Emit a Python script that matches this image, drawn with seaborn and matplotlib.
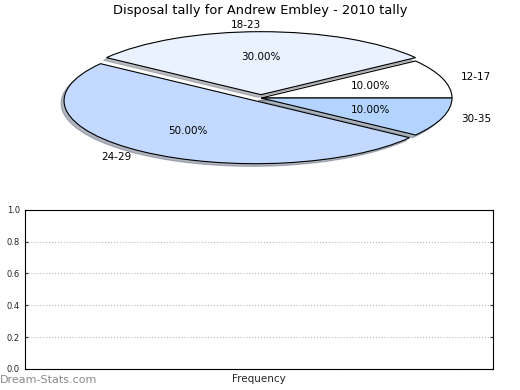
import matplotlib
matplotlib.use("Agg")
import matplotlib.pyplot as plt
import seaborn as sns

# Disposal tally by stat interval
intervals = ["12-17", "18-23", "24-29", "30-35"]
shares = [10, 30, 50, 10]
wedge_colors = ["#FFFFFF", "#EAF1FF", "#C3D9FF", "#B3D4FF"]
explode = [0.0, 0.053, 0.053, 0.0]

y_ticks = [0.0, 0.2, 0.4, 0.6, 0.8, 1.0]

sns.set_style("white")
plt.rcParams["font.family"] = ["DejaVu Sans"]
plt.rcParams["text.color"] = "black"

fig = plt.figure(figsize=(5.2, 3.9), dpi=100)

# ── Pie (squashed into an ellipse) ──
ax_pie = fig.add_axes([0.0428, 0.5468, 0.9183, 0.4038])
wedges, texts, autotexts = ax_pie.pie(
    shares, labels=intervals, colors=wedge_colors, explode=explode,
    startangle=0, counterclock=True, autopct="%.2f%%",
    shadow={"ox": -0.011, "oy": -0.03, "shade": 0.5},
    wedgeprops={"edgecolor": "black", "linewidth": 0.8},
    textprops={"fontsize": 7.5, "color": "black"},
)
ax_pie.set_aspect("auto")
ax_pie.set_xlim(-1.25, 1.25)
ax_pie.set_ylim(-1.25, 1.25)
ax_pie.axis("off")
fig.text(0.5, 0.974, "Disposal tally for Andrew Embley - 2010 tally",
         ha="center", va="center", fontsize=9.4)

# ── Empty frequency panel ──
ax = fig.add_axes([0.048, 0.054, 0.9, 0.408])
ax.set_ylim(0, 1)
ax.set_xlim(0, 1)
ax.set_yticks(y_ticks)
ax.set_yticklabels([f"{t:.1f}" for t in y_ticks])
ax.set_xticks([])
ax.tick_params(axis="y", labelsize=6, labelcolor="#222222", length=2,
               direction="in", left=True, right=True, labelright=False)
ax.yaxis.grid(True, linestyle=":", color="#BBBBBB", linewidth=0.8)
for s in ax.spines.values():
    s.set_color("black")
    s.set_linewidth(0.8)
ax.set_xlabel("Frequency", fontsize=7.5, labelpad=4)
ax.set_ylabel("Stat Intervals", fontsize=7.5)
ax.yaxis.set_label_coords(-0.048, 0.5)

fig.text(0.0, 0.025, "Dream-Stats.com", ha="left", va="center",
         fontsize=8, color="#8A8A8A")

fig.savefig("out.png", dpi=100)
